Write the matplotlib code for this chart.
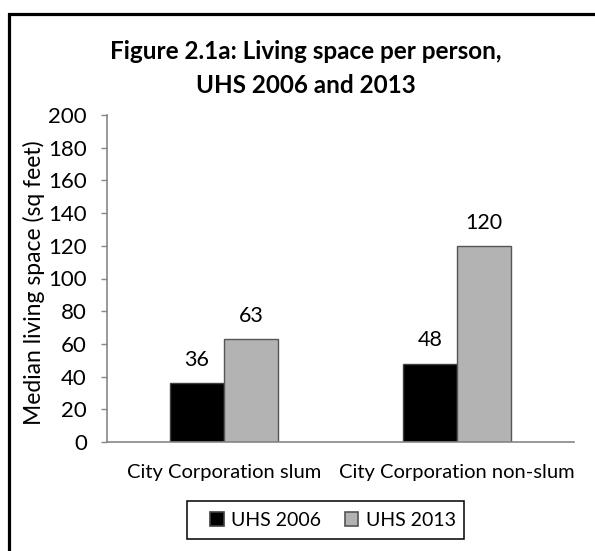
import matplotlib
matplotlib.use("Agg")
import matplotlib.pyplot as plt
from matplotlib.patches import Rectangle, Patch
import numpy as np

plt.rcParams['font.family'] = ['Lato', 'DejaVu Sans']

categories = ["City Corporation slum", "City Corporation non-slum"]
series_names = ["UHS 2006", "UHS 2013"]
uhs_2006 = [36, 48]
uhs_2013 = [63, 120]
yticks = [0, 20, 40, 60, 80, 100, 120, 140, 160, 180, 200]
title = "Figure 2.1a: Living space per person,\nUHS 2006 and 2013"
ylabel = "Median living space (sq feet)"

W, H = 595, 551
fig = plt.figure(figsize=(W / 100, H / 100), dpi=100)

def fx(px):
    return px / W

def fy(py):
    return 1 - py / H

ax = fig.add_axes([fx(107), fy(442), fx(574) - fx(107), fy(115) - fy(442)])

x = np.arange(len(categories))
bw = 0.232
spine_gray = "#868686"
b1 = ax.bar(x - bw / 2, uhs_2006, width=bw, color="black", edgecolor="#404040", linewidth=1.0, label=series_names[0])
b2 = ax.bar(x + bw / 2, uhs_2013, width=bw, color="#b3b3b3", edgecolor="#555555", linewidth=1.0, label=series_names[1])
ax.bar_label(b1, padding=9.5, fontsize=15.5)
ax.bar_label(b2, padding=9.5, fontsize=15.5)

ax.set_xlim(-0.5, 1.5)
ax.set_ylim(0, 200)
ax.set_yticks(yticks)
ax.set_xticks(x)
ax.set_xticklabels(categories, fontsize=14.5)
ax.tick_params(axis='y', labelsize=16, length=4.5, width=1, color=spine_gray, pad=10, direction='out')
ax.tick_params(axis='x', length=0, pad=16)
for s in ["top", "right"]:
    ax.spines[s].set_visible(False)
for s in ["left", "bottom"]:
    ax.spines[s].set_color(spine_gray)
    ax.spines[s].set_linewidth(1.2)

ax.set_ylabel(ylabel, fontsize=16.5, va='center')
ax.yaxis.set_label_coords((34 - 107) / 467, (442 - 283) / 327)

fig.text(fx(306), fy(68.5), title, ha='center', va='center', fontsize=17.5, fontweight='bold', linespacing=1.58)

# legend
handles = [Patch(facecolor="black", edgecolor="#404040", linewidth=1.2),
           Patch(facecolor="#b3b3b3", edgecolor="#555555", linewidth=1.2)]
fig.legend(handles, series_names, loc='center', bbox_to_anchor=(fx(333), fy(520)), ncol=2,
           frameon=False, fontsize=14, handlelength=0.7, handleheight=0.7,
           handletextpad=0.4, columnspacing=1.2, borderpad=0.2)
fig.patches.append(Rectangle((fx(187), fy(539)), fx(464) - fx(187), fy(501) - fy(539),
                             transform=fig.transFigure, fill=False, edgecolor="black", linewidth=1.1))

# outer chart border (extends beyond right/bottom edges)
fig.patches.append(Rectangle((fx(9), fy(560)), fx(620) - fx(9), fy(13.5) - fy(560),
                             transform=fig.transFigure, fill=False, edgecolor="black", linewidth=2.3))

fig.savefig("out.png", dpi=100)
